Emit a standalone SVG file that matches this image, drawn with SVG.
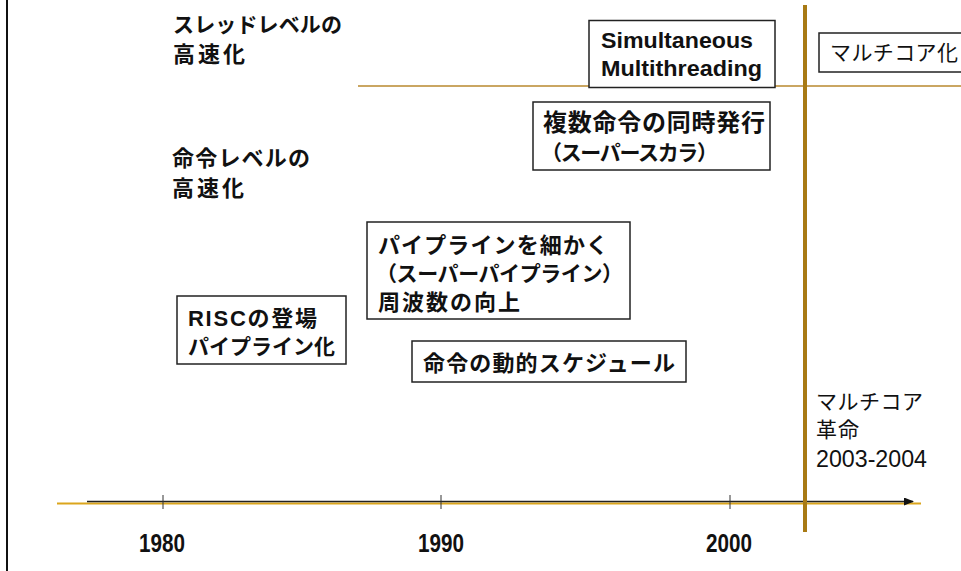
<svg xmlns="http://www.w3.org/2000/svg" width="961" height="571" viewBox="0 0 961 571">
<style>
.box{fill:#fff;stroke:#222;stroke-width:1.5}
.jb{font-family:"Noto Sans CJK JP","Liberation Sans",sans-serif;font-weight:bold;font-size:22px;fill:#111}
.jr{font-family:"Noto Sans CJK JP","Liberation Sans",sans-serif;font-weight:normal;font-size:21px;fill:#111}
.eb{font-family:"Liberation Sans",Arial,sans-serif;font-weight:bold;font-size:22px;fill:#111}
.yr{font-family:"Liberation Sans",Arial,sans-serif;font-weight:bold;font-size:25px;fill:#111}
</style>
<defs>
<marker id="arr" markerWidth="10" markerHeight="8" refX="9" refY="4" orient="auto" markerUnits="userSpaceOnUse">
<path d="M0,0 L10,4 L0,8 Z" fill="#111"/>
</marker>
</defs>
<rect width="961" height="571" fill="#fff"/>
<line x1="7" y1="0" x2="7" y2="571" stroke="#111" stroke-width="2"/>

<g id="connectors">
<line x1="57" y1="503.5" x2="921" y2="503.5" stroke="#dba51c" stroke-width="2"/>
<line x1="87" y1="501.5" x2="913" y2="501.5" stroke="#222" stroke-width="1.5" marker-end="url(#arr)"/>
<line x1="163" y1="495" x2="163" y2="509" stroke="#333" stroke-width="1"/>
<line x1="441" y1="495" x2="441" y2="509" stroke="#333" stroke-width="1"/>
<line x1="730" y1="495" x2="730" y2="509" stroke="#333" stroke-width="1"/>
<line x1="358" y1="86" x2="961" y2="86" stroke="#b8892e" stroke-width="1.5"/>
<line x1="805" y1="5" x2="805" y2="532" stroke="#a87a14" stroke-width="4"/>
</g>

<g id="label-thread">
<text class="jb" x="173" y="32" style="font-size:21px" textLength="169" lengthAdjust="spacing">スレッドレベルの</text>
<text class="jb" x="173" y="62" textLength="72" lengthAdjust="spacing">高速化</text>
</g>
<g id="label-inst">
<text class="jb" x="172" y="166" textLength="138" lengthAdjust="spacing">命令レベルの</text>
<text class="jb" x="172" y="196" textLength="72" lengthAdjust="spacing">高速化</text>
</g>

<g id="node-smt">
<rect class="box" x="589" y="20.5" width="186" height="67"/>
<text class="eb" x="601" y="48" textLength="152" lengthAdjust="spacingAndGlyphs">Simultaneous</text>
<text class="eb" x="601" y="76" textLength="161" lengthAdjust="spacingAndGlyphs">Multithreading</text>
</g>

<g id="node-multicore">
<rect class="box" x="819" y="33" width="160" height="39"/>
<text class="jr" x="830" y="60" textLength="128" lengthAdjust="spacing">マルチコア化</text>
</g>

<g id="node-superscalar">
<rect class="box" x="533" y="102" width="237" height="68"/>
<text class="jb" x="543" y="131" style="font-size:24px" textLength="222" lengthAdjust="spacing">複数命令の同時発行</text>
<text class="jb" x="541" y="160" style="font-size:21px" textLength="177" lengthAdjust="spacing">（スーパースカラ）</text>
</g>

<g id="node-superpipeline">
<rect class="box" x="367" y="222" width="263" height="97"/>
<text class="jb" x="378" y="253" textLength="230" lengthAdjust="spacing">パイプラインを細かく</text>
<text class="jb" x="376" y="281" style="font-size:21px" textLength="247" lengthAdjust="spacing">（スーパーパイプライン）</text>
<text class="jb" x="378" y="310" textLength="142" lengthAdjust="spacing">周波数の向上</text>
</g>

<g id="node-risc">
<rect class="box" x="177" y="296" width="169" height="68"/>
<text class="jb" x="188" y="326" textLength="129" lengthAdjust="spacing"><tspan style="font-family:'Liberation Sans',Arial,sans-serif">RISC</tspan>の登場</text>
<text class="jb" x="188" y="354" style="font-size:21px" textLength="147" lengthAdjust="spacing">パイプライン化</text>
</g>

<g id="node-dynamic">
<rect class="box" x="412" y="341" width="274" height="41"/>
<text class="jb" x="423" y="371" textLength="252" lengthAdjust="spacing">命令の動的スケジュール</text>
</g>

<g id="label-revolution">
<text class="jr" x="816" y="409" textLength="107" lengthAdjust="spacing">マルチコア</text>
<text class="jr" x="816" y="437" textLength="43" lengthAdjust="spacing">革命</text>
<text class="jr" x="816" y="467" style="font-family:'Liberation Sans',Arial,sans-serif;font-size:23px" textLength="111" lengthAdjust="spacingAndGlyphs">2003-2004</text>
</g>

<g id="years">
<text class="yr" x="162" y="552" text-anchor="middle" textLength="46" lengthAdjust="spacingAndGlyphs">1980</text>
<text class="yr" x="441" y="552" text-anchor="middle" textLength="46" lengthAdjust="spacingAndGlyphs">1990</text>
<text class="yr" x="729" y="552" text-anchor="middle" textLength="46" lengthAdjust="spacingAndGlyphs">2000</text>
</g>
</svg>
